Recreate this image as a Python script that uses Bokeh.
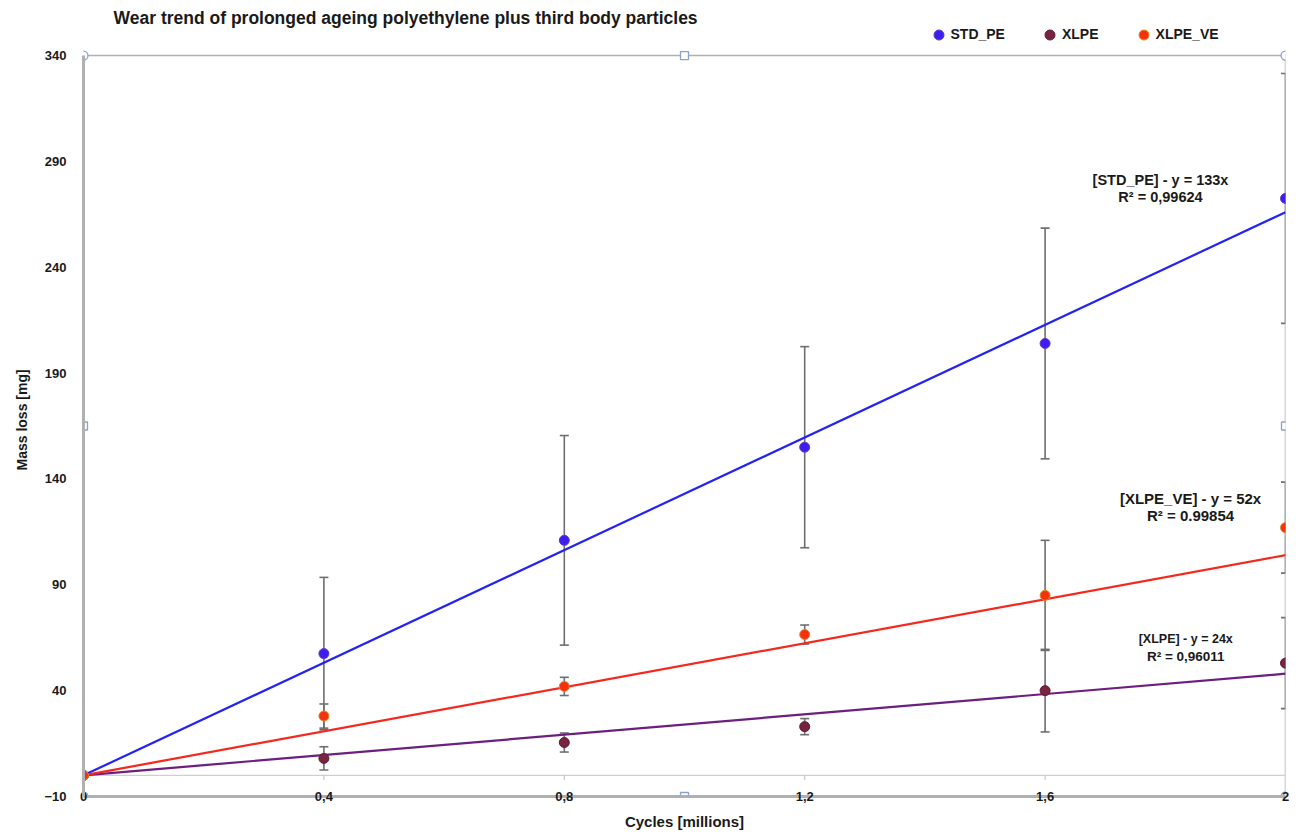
from bokeh.plotting import figure
from bokeh.models import (Range1d, FixedTicker, Whisker, TeeHead, ColumnDataSource,
                          Label, Legend, LegendItem, Title)
from bokeh.embed import file_html
from bokeh.resources import INLINE

# Mass loss [mg] per cycle count [millions], mean and standard deviation
cycles = [0.0, 0.4, 0.8, 1.2, 1.6, 2.0]
std_pe = [0.0, 57.5, 111.0, 155.0, 204.0, 272.5]
std_pe_sd = [0.0, 36.0, 49.5, 47.5, 54.5, 59.0]
xlpe = [0.0, 8.0, 15.5, 23.0, 40.0, 53.0]
xlpe_sd = [0.0, 5.5, 4.5, 3.8, 19.5, 21.5]
xlpe_ve = [0.0, 28.0, 42.0, 66.5, 85.0, 117.0]
xlpe_ve_sd = [0.0, 5.7, 4.3, 4.5, 26.0, 21.5]

# Linear trends through the origin
slopes = {"STD_PE": 133, "XLPE_VE": 52, "XLPE": 24}
r_squared = {"STD_PE": "0,99624", "XLPE_VE": "0.99854", "XLPE": "0,96011"}

x_ticks = [0.0, 0.4, 0.8, 1.2, 1.6, 2.0]
x_tick_labels = ["0", "0,4", "0,8", "1,2", "1,6", "2"]
y_ticks = [-10, 40, 90, 140, 190, 240, 290, 340]

X0, X1 = 0.0, 2.0
Y0, Y1 = -10, 340
# the frame runs up to the top of the canvas so the title and legend sit inside it
Y_TOP = 366.0

BOLD = "Liberation Sans"
NARROW = "Liberation Sans Narrow, Liberation Sans"
TEXT = "#1a1a1a"
BORDER = "#b0b0b0"

p = figure(width=1299, height=838, x_range=Range1d(X0, X1), y_range=Range1d(Y0, Y_TOP),
           output_backend="svg", toolbar_location=None,
           min_border_left=83, min_border_right=14, min_border_top=0, min_border_bottom=42)
p.background_fill_color = "white"
p.border_fill_color = "white"
p.outline_line_color = None
p.xgrid.visible = False
p.ygrid.visible = False

# axes
p.xaxis.ticker = FixedTicker(ticks=x_ticks)
p.xaxis.major_label_overrides = dict(zip(x_ticks, x_tick_labels))
p.yaxis.ticker = FixedTicker(ticks=y_ticks)
p.yaxis.bounds = (Y0, Y1)
for ax in (p.xaxis[0], p.yaxis[0]):
    ax.axis_line_color = BORDER
    ax.axis_line_width = 3
    ax.major_tick_line_color = None
    ax.minor_tick_line_color = None
    ax.major_label_text_font_style = "bold"
    ax.major_label_text_color = TEXT

p.xaxis.major_label_text_font = NARROW
p.xaxis.major_label_text_font_size = "13px"
p.xaxis.major_label_standoff = -11
p.xaxis.axis_label = "Cycles [millions]"
p.xaxis.axis_label_standoff = 9
p.xaxis.axis_label_text_font = NARROW
p.xaxis.axis_label_text_font_size = "15px"
p.xaxis.axis_label_text_font_style = "bold"
p.xaxis.axis_label_text_color = TEXT

p.yaxis.major_label_text_font = BOLD
p.yaxis.major_label_text_font_size = "13px"
p.yaxis.major_label_standoff = 11

# y-axis caption, centred on the bounded axis (-10..340) rather than the whole frame
p.add_layout(Title(text="Mass loss [mg]", align="left", offset=326, standoff=23,
                   text_font=NARROW, text_font_size="14px", text_font_style="bold",
                   text_color=TEXT), "left")

# top and right borders of the plot area
p.line([X0, X1], [Y1, Y1], line_color=BORDER, line_width=1.5)
p.line([X1, X1], [Y0, Y1], line_color=BORDER, line_width=1.5)

# zero line with small ticks
p.line([X0, X1], [0, 0], line_color="#cfcfcf", line_width=1.2)
p.segment(x0=x_ticks[1:-1], y0=[0] * 4, x1=x_ticks[1:-1], y1=[-2.2] * 4,
          line_color="#bdbdbd", line_width=1)

series = [
    ("STD_PE", std_pe, std_pe_sd, "#2323f5", "#3b1ff0", "#6a34c8"),
    ("XLPE", xlpe, xlpe_sd, "#6c1f80", "#78233f", "#5e1c35"),
    ("XLPE_VE", xlpe_ve, xlpe_ve_sd, "#f5281e", "#f5320f", "#e68a1c"),
]

# error bars
for name, vals, sd, line_col, fill_col, edge_col in series:
    idx = [i for i, s in enumerate(sd) if s > 0]
    src = ColumnDataSource(dict(
        x=[cycles[i] for i in idx],
        upper=[vals[i] + sd[i] for i in idx],
        lower=[vals[i] - sd[i] for i in idx],
    ))
    p.add_layout(Whisker(base="x", upper="upper", lower="lower", source=src,
                         line_color="#6e6e6e", line_width=1.6,
                         upper_head=TeeHead(size=9, line_color="#6e6e6e", line_width=1.6),
                         lower_head=TeeHead(size=9, line_color="#6e6e6e", line_width=1.6)))

# trend lines
for name, vals, sd, line_col, fill_col, edge_col in series:
    xs = [X0, X1]
    p.line(xs, [slopes[name] * x for x in xs], line_color=line_col, line_width=2.2)

# measured points
point_renderers = {}
for name, vals, sd, line_col, fill_col, edge_col in series:
    point_renderers[name] = p.scatter(cycles, vals, size=10, fill_color=fill_col,
                                      line_color=edge_col, line_width=1)

# trend equations
eq_pos = {"STD_PE": (1.792, 281.0, 273.0, "14.5px", "14.5px", BOLD),
          "XLPE_VE": (1.842, 130.7, 122.7, "15px", "15px", BOLD),
          "XLPE": (1.834, 64.6, 56.1, "12.5px", "13.5px", NARROW)}
for name, (lx, ly1, ly2, fs1, fs2, font) in eq_pos.items():
    for ly, fs, txt in ((ly1, fs1, f"[{name}] - y = {slopes[name]}x"),
                        (ly2, fs2, f"R² = {r_squared[name]}")):
        p.add_layout(Label(x=lx, y=ly, text=txt, text_align="center", text_baseline="middle",
                           text_font=font, text_font_size=fs, text_font_style="bold",
                           text_color=TEXT))

# chart title
p.add_layout(Label(x=0.05, y=357.5,
                   text="Wear trend of prolonged ageing polyethylene plus third body particles",
                   text_align="left", text_baseline="middle", text_font=BOLD,
                   text_font_size="17.5px", text_font_style="bold", text_color=TEXT))

# selection handles on the plot frame
handle_x = [X0, X1, X0, X1]
handle_y = [Y1, Y1, Y0, Y0]
p.scatter(handle_x, handle_y, marker="circle", size=9, fill_color="white",
          line_color="#8aa2cf", line_width=1.3)
mid_x = [(X0 + X1) / 2, X0, X1, (X0 + X1) / 2]
mid_y = [Y1, (Y0 + Y1) / 2, (Y0 + Y1) / 2, Y0]
p.scatter(mid_x, mid_y, marker="square", size=8, fill_color="white",
          line_color="#8aa2cf", line_width=1.3)

legend = Legend(items=[LegendItem(label=n, renderers=[point_renderers[n]]) for n, *_ in series],
                orientation="horizontal", location=(842.5, 749.5),
                glyph_width=25, glyph_height=25, label_height=25, label_standoff=0,
                spacing=32, padding=0, margin=0, border_line_color=None,
                background_fill_alpha=0, label_text_font=BOLD, label_text_font_size="14px",
                label_text_font_style="bold", label_text_color=TEXT)
p.add_layout(legend)

open("out.html", "w").write(file_html(p, INLINE))
